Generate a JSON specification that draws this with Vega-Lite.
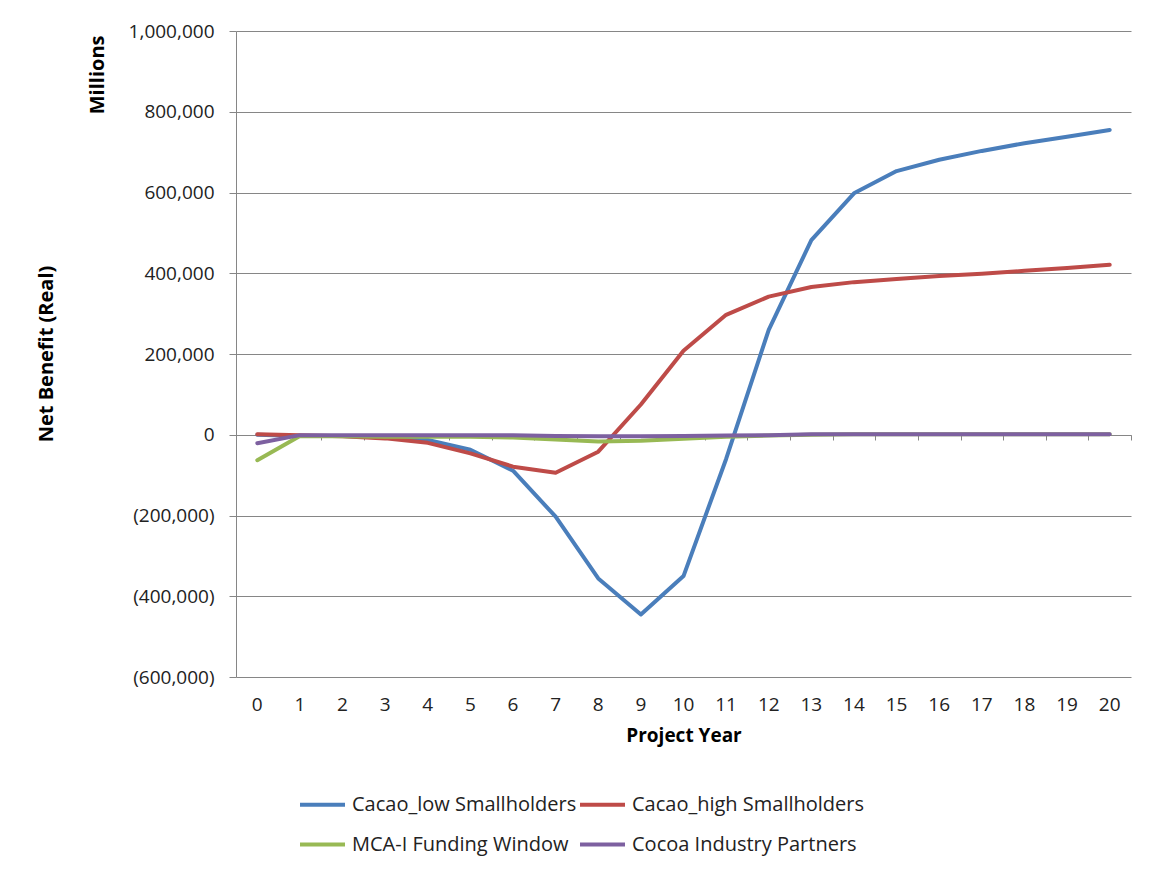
{
  "$schema": "https://vega.github.io/schema/vega-lite/v6.json",
  "autosize": {"type": "none"},
  "width": 895,
  "height": 646,
  "padding": {"left": 236, "top": 31, "right": 20, "bottom": 197},
  "background": "white",
  "title": {
    "text": "Net Benefit (Real)",
    "orient": "left",
    "anchor": "middle",
    "offset": 30,
    "font": "Open Sans",
    "fontSize": 20,
    "fontWeight": "bold",
    "color": "black"
  },
  "config": {"view": {"stroke": null}, "font": "Open Sans"},
  "data": {
    "values": [
      {"year": 0, "series": "Cacao_low Smallholders", "value": 0},
      {"year": 1, "series": "Cacao_low Smallholders", "value": -3000},
      {"year": 2, "series": "Cacao_low Smallholders", "value": -3000},
      {"year": 3, "series": "Cacao_low Smallholders", "value": -6000},
      {"year": 4, "series": "Cacao_low Smallholders", "value": -13000},
      {"year": 5, "series": "Cacao_low Smallholders", "value": -37000},
      {"year": 6, "series": "Cacao_low Smallholders", "value": -89000},
      {"year": 7, "series": "Cacao_low Smallholders", "value": -203000},
      {"year": 8, "series": "Cacao_low Smallholders", "value": -356000},
      {"year": 9, "series": "Cacao_low Smallholders", "value": -445000},
      {"year": 10, "series": "Cacao_low Smallholders", "value": -350000},
      {"year": 11, "series": "Cacao_low Smallholders", "value": -60000},
      {"year": 12, "series": "Cacao_low Smallholders", "value": 260000},
      {"year": 13, "series": "Cacao_low Smallholders", "value": 482000},
      {"year": 14, "series": "Cacao_low Smallholders", "value": 598000},
      {"year": 15, "series": "Cacao_low Smallholders", "value": 653000},
      {"year": 16, "series": "Cacao_low Smallholders", "value": 681000},
      {"year": 17, "series": "Cacao_low Smallholders", "value": 703000},
      {"year": 18, "series": "Cacao_low Smallholders", "value": 722000},
      {"year": 19, "series": "Cacao_low Smallholders", "value": 738000},
      {"year": 20, "series": "Cacao_low Smallholders", "value": 755000},
      {"year": 0, "series": "Cacao_high Smallholders", "value": 1000},
      {"year": 1, "series": "Cacao_high Smallholders", "value": -1000},
      {"year": 2, "series": "Cacao_high Smallholders", "value": -4000},
      {"year": 3, "series": "Cacao_high Smallholders", "value": -9000},
      {"year": 4, "series": "Cacao_high Smallholders", "value": -20000},
      {"year": 5, "series": "Cacao_high Smallholders", "value": -46000},
      {"year": 6, "series": "Cacao_high Smallholders", "value": -79000},
      {"year": 7, "series": "Cacao_high Smallholders", "value": -94000},
      {"year": 8, "series": "Cacao_high Smallholders", "value": -42000},
      {"year": 9, "series": "Cacao_high Smallholders", "value": 75000},
      {"year": 10, "series": "Cacao_high Smallholders", "value": 208000},
      {"year": 11, "series": "Cacao_high Smallholders", "value": 297000},
      {"year": 12, "series": "Cacao_high Smallholders", "value": 342000},
      {"year": 13, "series": "Cacao_high Smallholders", "value": 366000},
      {"year": 14, "series": "Cacao_high Smallholders", "value": 378000},
      {"year": 15, "series": "Cacao_high Smallholders", "value": 386000},
      {"year": 16, "series": "Cacao_high Smallholders", "value": 393000},
      {"year": 17, "series": "Cacao_high Smallholders", "value": 399000},
      {"year": 18, "series": "Cacao_high Smallholders", "value": 406000},
      {"year": 19, "series": "Cacao_high Smallholders", "value": 413000},
      {"year": 20, "series": "Cacao_high Smallholders", "value": 421000},
      {"year": 0, "series": "MCA-I Funding Window", "value": -63000},
      {"year": 1, "series": "MCA-I Funding Window", "value": -3000},
      {"year": 2, "series": "MCA-I Funding Window", "value": -4000},
      {"year": 3, "series": "MCA-I Funding Window", "value": -5000},
      {"year": 4, "series": "MCA-I Funding Window", "value": -5000},
      {"year": 5, "series": "MCA-I Funding Window", "value": -5000},
      {"year": 6, "series": "MCA-I Funding Window", "value": -7000},
      {"year": 7, "series": "MCA-I Funding Window", "value": -12000},
      {"year": 8, "series": "MCA-I Funding Window", "value": -17000},
      {"year": 9, "series": "MCA-I Funding Window", "value": -15000},
      {"year": 10, "series": "MCA-I Funding Window", "value": -10000},
      {"year": 11, "series": "MCA-I Funding Window", "value": -5000},
      {"year": 12, "series": "MCA-I Funding Window", "value": -2000},
      {"year": 13, "series": "MCA-I Funding Window", "value": 0},
      {"year": 14, "series": "MCA-I Funding Window", "value": 1000},
      {"year": 15, "series": "MCA-I Funding Window", "value": 1000},
      {"year": 16, "series": "MCA-I Funding Window", "value": 1000},
      {"year": 17, "series": "MCA-I Funding Window", "value": 1000},
      {"year": 18, "series": "MCA-I Funding Window", "value": 1000},
      {"year": 19, "series": "MCA-I Funding Window", "value": 1000},
      {"year": 20, "series": "MCA-I Funding Window", "value": 1000},
      {"year": 0, "series": "Cocoa Industry Partners", "value": -21000},
      {"year": 1, "series": "Cocoa Industry Partners", "value": -1000},
      {"year": 2, "series": "Cocoa Industry Partners", "value": -1000},
      {"year": 3, "series": "Cocoa Industry Partners", "value": -1000},
      {"year": 4, "series": "Cocoa Industry Partners", "value": -1000},
      {"year": 5, "series": "Cocoa Industry Partners", "value": -1000},
      {"year": 6, "series": "Cocoa Industry Partners", "value": -1000},
      {"year": 7, "series": "Cocoa Industry Partners", "value": -3000},
      {"year": 8, "series": "Cocoa Industry Partners", "value": -4000},
      {"year": 9, "series": "Cocoa Industry Partners", "value": -4000},
      {"year": 10, "series": "Cocoa Industry Partners", "value": -3000},
      {"year": 11, "series": "Cocoa Industry Partners", "value": -2000},
      {"year": 12, "series": "Cocoa Industry Partners", "value": -1000},
      {"year": 13, "series": "Cocoa Industry Partners", "value": 1000},
      {"year": 14, "series": "Cocoa Industry Partners", "value": 1000},
      {"year": 15, "series": "Cocoa Industry Partners", "value": 1000},
      {"year": 16, "series": "Cocoa Industry Partners", "value": 1000},
      {"year": 17, "series": "Cocoa Industry Partners", "value": 1000},
      {"year": 18, "series": "Cocoa Industry Partners", "value": 1000},
      {"year": 19, "series": "Cocoa Industry Partners", "value": 1000},
      {"year": 20, "series": "Cocoa Industry Partners", "value": 1000}
    ]
  },
  "layer": [
    {
      "mark": {"type": "line", "opacity": 0},
      "encoding": {
        "x": {
          "field": "year",
          "type": "ordinal",
          "bandPosition": 0.5,
          "scale": {"type": "band", "paddingInner": 0, "paddingOuter": 0},
          "axis": {
            "title": null,
            "orient": "bottom",
            "offset": -242,
            "labels": false,
            "grid": false,
            "domain": true,
            "domainColor": "#868686",
            "domainWidth": 1,
            "ticks": true,
            "tickBand": "extent",
            "tickColor": "#868686",
            "tickSize": 5
          }
        },
        "y": {"field": "value", "type": "quantitative"},
        "detail": {"field": "series"}
      }
    },
    {
      "mark": {"type": "line", "strokeWidth": 4, "strokeCap": "round", "strokeJoin": "round"},
      "encoding": {
        "x": {
          "field": "year",
          "type": "ordinal",
          "bandPosition": 0.5,
          "scale": {"type": "band", "paddingInner": 0, "paddingOuter": 0},
          "axis": {
            "orient": "bottom",
            "title": "Project Year",
            "titleFont": "Open Sans",
            "titleFontSize": 19,
            "titleFontWeight": "bold",
            "titleColor": "black",
            "titlePadding": 12,
            "labelAngle": 0,
            "labelFont": "Open Sans",
            "labelFontSize": 19,
            "labelColor": "#222222",
            "labelPadding": 18,
            "domain": false,
            "ticks": false,
            "tickSize": 0,
            "grid": false
          }
        },
        "y": {
          "field": "value",
          "type": "quantitative",
          "scale": {"domain": [-600000, 1000000], "nice": false, "zero": false},
          "axis": {
            "title": "Millions",
            "titleFont": "Open Sans",
            "titleFontSize": 20,
            "titleFontWeight": "bold",
            "titleColor": "black",
            "titleAnchor": "end",
            "titleAngle": -90,
            "titleAlign": "right",
            "titleBaseline": "middle",
            "titleX": -139,
            "titleY": 4,
            "values": [-600000, -400000, -200000, 0, 200000, 400000, 600000, 800000, 1000000],
            "labelExpr": "datum.value < 0 ? '(' + format(-datum.value, ',') + ')' : format(datum.value, ',') + '\u00a0'",
            "labelFont": "Open Sans",
            "labelFontSize": 19,
            "labelColor": "#222222",
            "labelPadding": 15,
            "grid": true,
            "gridColor": "#868686",
            "gridWidth": 1,
            "domain": true,
            "domainColor": "#868686",
            "ticks": true,
            "tickSize": 7,
            "tickColor": "#868686"
          }
        },
        "color": {
          "field": "series",
          "type": "nominal",
          "sort": null,
          "scale": {
            "domain": ["Cacao_low Smallholders", "Cacao_high Smallholders", "MCA-I Funding Window", "Cocoa Industry Partners"],
            "range": ["#4A7EBB", "#BE4B48", "#98B954", "#7D60A0"]
          },
          "legend": {
            "title": null,
            "orient": "none",
            "direction": "horizontal",
            "legendX": 62,
            "legendY": 749,
            "columns": 2,
            "columnPadding": -5,
            "rowPadding": 5,
            "symbolType": "stroke",
            "symbolSize": 2025,
            "symbolStrokeWidth": 4,
            "labelFont": "Open Sans",
            "labelFontSize": 20,
            "labelColor": "#222222",
            "labelOffset": 5,
            "labelLimit": 400
          }
        }
      }
    }
  ],
  "resolve": {"axis": {"x": "independent"}}
}
